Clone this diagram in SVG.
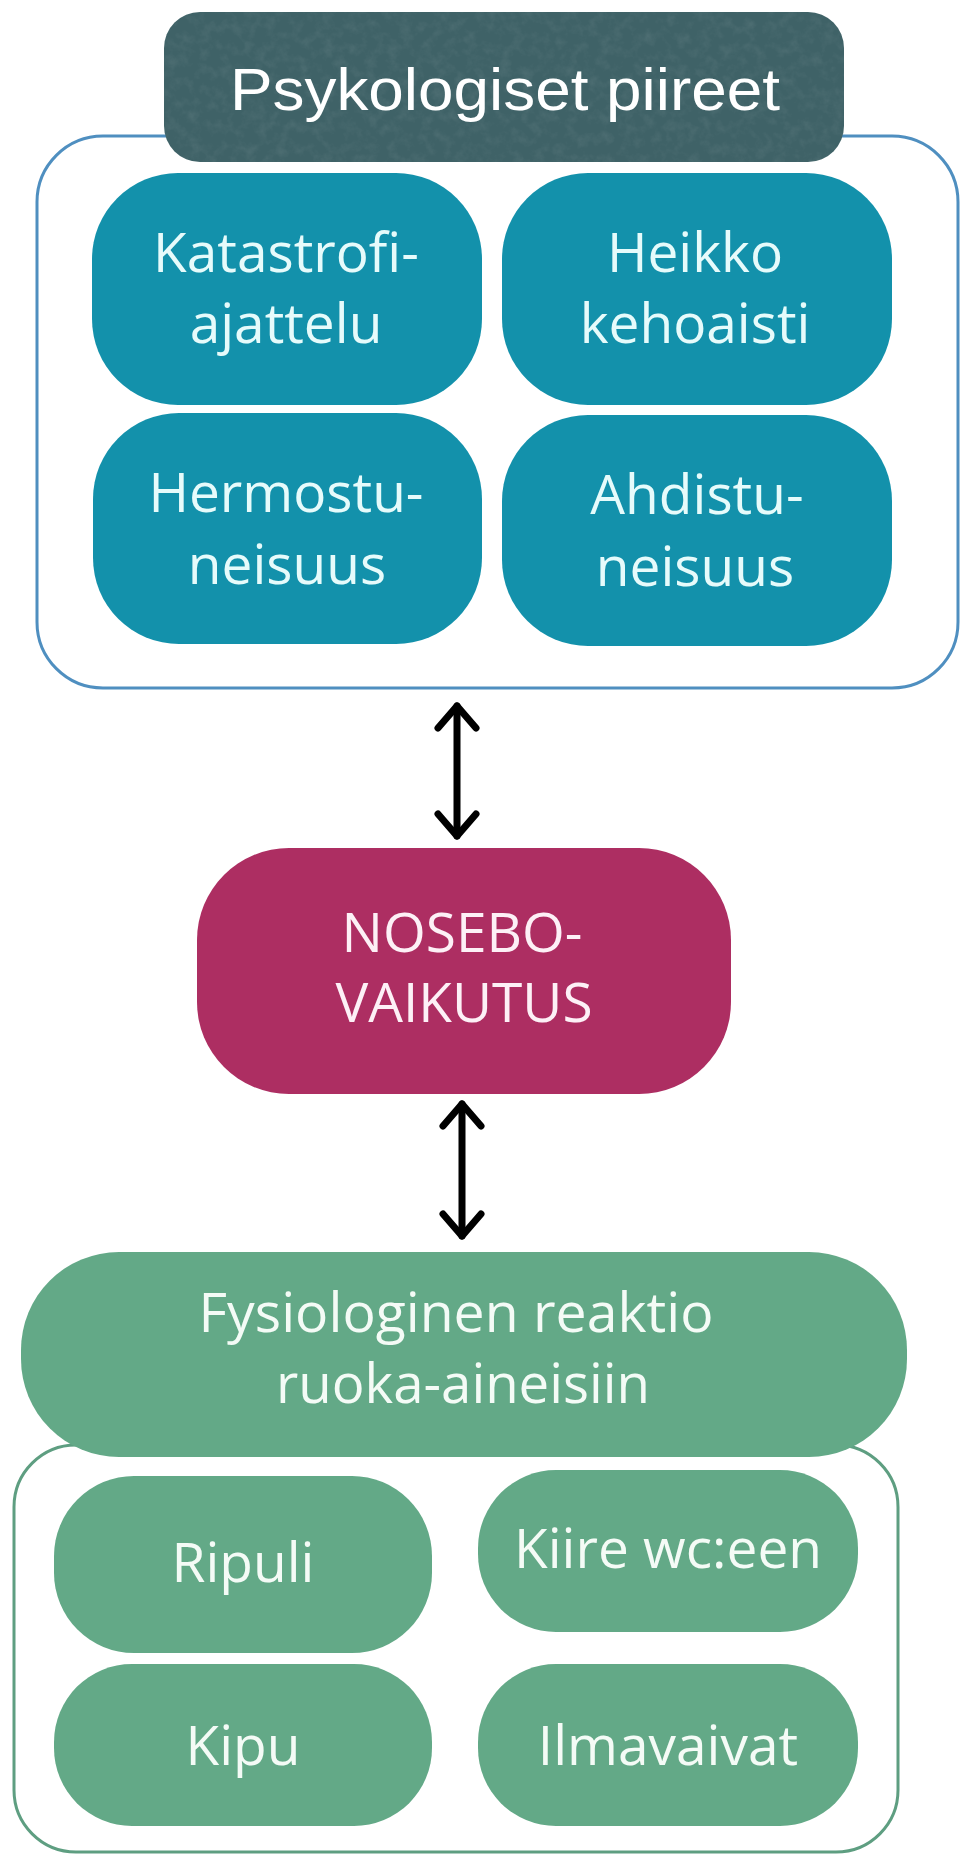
<svg xmlns="http://www.w3.org/2000/svg" width="961" height="1856" viewBox="0 0 961 1856">
<style>
  .lbl { font-family: "Open Sans", "Noto Sans", sans-serif; text-anchor: middle; font-size: 55px; }
  .teal { fill: #1391ab; }
  .tealtxt { fill: #e6fbfb; }
  .green { fill: #63a987; }
  .greentxt { fill: #f4fbf6; }
  .conn { stroke: #000; stroke-width: 7; fill: none; stroke-linecap: round; marker-start: url(#chev); marker-end: url(#chev); }
</style>
<defs>
  <marker id="chev" viewBox="-30 -30 60 60" markerWidth="60" markerHeight="60" refX="0" refY="0" orient="auto-start-reverse" markerUnits="userSpaceOnUse" overflow="visible">
    <path d="M-22,-19 L0,0 L-22,19" fill="none" stroke="#000" stroke-width="7" stroke-linecap="round" stroke-linejoin="round"/>
  </marker>
  <filter id="mottle" x="0" y="0" width="1" height="1">
    <feTurbulence type="fractalNoise" baseFrequency="0.09" numOctaves="4" seed="7" result="n"/>
    <feColorMatrix in="n" type="matrix" values="0 0 0 0 1  0 0 0 0 1  0 0 0 0 1  1.4 0 0 0 -0.6" result="w"/>
    <feComposite in="w" in2="SourceGraphic" operator="in"/>
  </filter>
</defs>
<rect width="961" height="1856" fill="#ffffff"/>

<g id="psych-group">
  <rect x="37" y="136" width="921" height="552" rx="66" fill="#ffffff" stroke="#4f8fc0" stroke-width="3"/>
</g>

<g id="title">
  <rect x="164" y="12" width="680" height="150" rx="36" fill="#3f6267"/>
  <rect x="164" y="12" width="680" height="150" rx="36" fill="#ffffff" opacity="0.1" filter="url(#mottle)"/>
  <text x="505" y="110" font-family="Liberation Sans, Arial, sans-serif" font-size="59" fill="#ffffff" text-anchor="middle" textLength="550" lengthAdjust="spacingAndGlyphs">Psykologiset piireet</text>
</g>

<g id="katastrofi">
  <rect class="teal" x="92" y="173" width="390" height="232" rx="86"/>
  <text class="lbl tealtxt" x="286" y="272">Katastrofi-</text>
  <text class="lbl tealtxt" x="286" y="343">ajattelu</text>
</g>
<g id="heikko">
  <rect class="teal" x="502" y="173" width="390" height="232" rx="86"/>
  <text class="lbl tealtxt" x="695" y="272">Heikko</text>
  <text class="lbl tealtxt" x="695" y="343">kehoaisti</text>
</g>
<g id="hermostu">
  <rect class="teal" x="93" y="413" width="389" height="231" rx="86"/>
  <text class="lbl tealtxt" x="286" y="512">Hermostu-</text>
  <text class="lbl tealtxt" x="287" y="584">neisuus</text>
</g>
<g id="ahdistu">
  <rect class="teal" x="502" y="415" width="390" height="231" rx="86"/>
  <text class="lbl tealtxt" x="697" y="514">Ahdistu-</text>
  <text class="lbl tealtxt" x="695" y="586">neisuus</text>
</g>

<g id="nosebo">
  <rect x="197" y="848" width="534" height="246" rx="92" fill="#ad2e62"/>
  <text class="lbl" x="462" y="952" font-size="54" fill="#fdf0f6">NOSEBO-</text>
  <text class="lbl" x="464" y="1022" font-size="54" fill="#fdf0f6">VAIKUTUS</text>
</g>

<g id="fysio-group">
  <rect x="14" y="1445" width="884" height="407" rx="62" fill="#ffffff" stroke="#5e9e81" stroke-width="3"/>
</g>
<g id="fysio">
  <rect class="green" x="21" y="1252" width="886" height="205" rx="98"/>
  <text class="lbl greentxt" x="456" y="1332" textLength="515" lengthAdjust="spacingAndGlyphs">Fysiologinen reaktio</text>
  <text class="lbl greentxt" x="463" y="1403" textLength="374" lengthAdjust="spacingAndGlyphs">ruoka-aineisiin</text>
</g>
<g id="ripuli">
  <rect class="green" x="54" y="1476" width="378" height="177" rx="80"/>
  <text class="lbl greentxt" x="243" y="1582">Ripuli</text>
</g>
<g id="kiire">
  <rect class="green" x="478" y="1470" width="380" height="162" rx="78"/>
  <text class="lbl greentxt" x="668" y="1568">Kiire wc:een</text>
</g>
<g id="kipu">
  <rect class="green" x="54" y="1664" width="378" height="162" rx="78"/>
  <text class="lbl greentxt" x="243" y="1765">Kipu</text>
</g>
<g id="ilmavaivat">
  <rect class="green" x="478" y="1664" width="380" height="162" rx="78"/>
  <text class="lbl greentxt" x="668" y="1765">Ilmavaivat</text>
</g>

<g id="connectors">
  <path class="conn" d="M457,706 L457,836"/>
  <path class="conn" d="M462,1104 L462,1236"/>
</g>
</svg>
